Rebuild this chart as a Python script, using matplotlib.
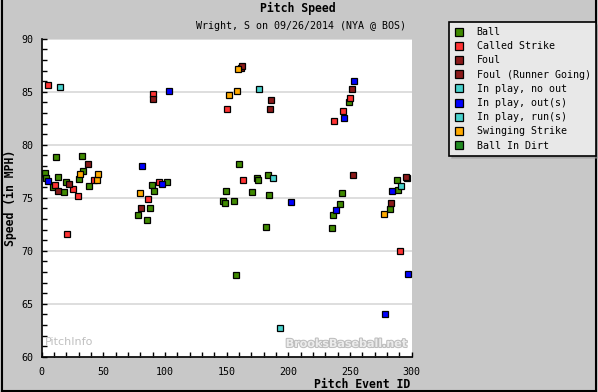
import matplotlib
matplotlib.use("Agg")
import matplotlib.pyplot as plt
import matplotlib.patheffects as pe
from matplotlib.ticker import MultipleLocator

# pitch results (x = pitch event id, y = speed in mph)
ball_x = [12.0, 33.1, 3.1, 3.9, 13.6, 9.3, 18.5, 20.1, 33.9, 30.7, 38.8,
          89.2, 102.1, 91.6, 88.3, 78.6, 85.9,
          146.8, 148.4, 149.2, 155.7, 157.3, 170.3, 184.1, 181.7, 159.8, 174.4, 175.2, 183.3,
          249.1, 243.4, 241.8, 236.1, 235.3, 288.1, 288.9, 282.4]
ball_y = [78.8, 78.9, 77.3, 76.9, 77.0, 76.0, 75.5, 76.45, 77.5, 76.74, 76.08,
          76.17, 76.45, 75.6, 74.0, 73.34, 72.87,
          74.66, 74.47, 75.66, 74.66, 67.68, 75.57, 75.3, 72.2, 78.15, 76.83, 76.64, 77.1,
          84.0, 75.4, 74.38, 73.34, 72.1, 76.64, 75.7, 73.9]

called_x = [5.0, 90.3, 150.6, 11.2, 25.8, 29.9, 42.6, 21.0, 95.4, 86.7, 163.0,
            249.9, 244.2, 236.9, 296.2, 290.5]
called_y = [85.6, 84.75, 83.34, 76.17, 75.8, 75.2, 76.64, 71.55, 76.45, 74.85, 76.64,
            84.38, 83.15, 82.2, 76.9, 69.94]

foul_x = [90.8, 161.7, 162.2, 185.8, 185.0, 38.0, 13.1, 22.6, 81.0, 251.5, 252.3, 295.4, 283.2]
foul_y = [84.3, 87.2, 87.4, 84.2, 83.4, 78.15, 75.6, 76.26, 74.0, 85.23, 77.1, 77.0, 74.47]

noout_x = [15.3, 176.0, 187.4, 193.1, 291.3]
noout_y = [85.4, 85.3, 76.9, 62.68, 76.08]

outs_x = [103.3, 5.5, 81.8, 97.3, 202.0, 253.2, 245.0, 238.5, 284.0, 297.0, 278.3]
outs_y = [85.1, 76.6, 77.96, 76.26, 74.57, 85.98, 82.5, 73.8, 75.6, 67.77, 64.0]

swing_x = [151.7, 158.2, 159.0, 31.5, 45.3, 46.1, 80.2, 277.5]
swing_y = [84.66, 85.1, 87.1, 77.2, 76.64, 77.2, 75.4, 73.43]

labels = ["Ball", "Called Strike", "Foul", "Foul (Runner Going)", "In play, no out",
          "In play, out(s)", "In play, run(s)", "Swinging Strike", "Ball In Dirt"]
colors = ["#408a00", "#ff3333", "#8b1a1a", "#8b1a1a", "#48d1cc",
          "#0000ff", "#48d1cc", "#ffaa00", "#228b22"]
series_x = [ball_x, called_x, foul_x, [], noout_x, outs_x, [], swing_x, []]
series_y = [ball_y, called_y, foul_y, [], noout_y, outs_y, [], swing_y, []]

mono = "DejaVu Sans Mono"
W, H = 598, 392

fig = plt.figure(figsize=(W / 100, H / 100), dpi=100, facecolor="#c8c8c8")
ax = fig.add_axes([41.5 / W, 35.3 / H, 370 / W, 318 / H])
ax.set_facecolor("white")

for xs, ys, c, lab in zip(series_x, series_y, colors, labels):
    ax.plot(xs, ys, linestyle="none", marker="s", markersize=3.9,
            markerfacecolor=c, markeredgecolor="black", markeredgewidth=0.9,
            label=lab, zorder=3)

ax.set_xlim(0, 300)
ax.set_ylim(60, 90)
ax.xaxis.set_major_locator(MultipleLocator(50))
ax.xaxis.set_minor_locator(MultipleLocator(10))
ax.yaxis.set_major_locator(MultipleLocator(5))
ax.yaxis.set_minor_locator(MultipleLocator(1))
ax.tick_params(which="both", direction="in", color="black", width=1, length=3.5)
ax.tick_params(axis="x", which="major", pad=7.5, labelsize=7.2)
ax.tick_params(axis="y", which="major", pad=6, labelsize=7.2)
for t in ax.get_xticklabels() + ax.get_yticklabels():
    t.set_family(mono)

ax.grid(axis="y", which="major", color="#d8d8d8", linewidth=1.2, zorder=0)
ax.set_axisbelow(True)
for s in ["top", "right"]:
    ax.spines[s].set_visible(False)
for s in ["left", "bottom"]:
    ax.spines[s].set_linewidth(1.2)

# watermarks
ax.text(3, 61.4, "PitchInfo", fontsize=8, color="#c0c0c0", family="DejaVu Sans",
        ha="left", va="center", zorder=2)
ax.text(296, 61.2, "BrooksBaseball.net", fontsize=8, color="#ececec", weight="bold",
        family="DejaVu Sans", ha="right", va="center", zorder=2,
        path_effects=[pe.withStroke(linewidth=1.5, foreground="#bdbdbd")])

# titles and axis labels
fig.text(298 / W, 1 - 8 / H, "Pitch Speed", family=mono, weight="bold",
         fontsize=8.3, ha="center", va="center")
fig.text(301 / W, 1 - 26 / H, "Wright, S on 09/26/2014 (NYA @ BOS)", family=mono,
         fontsize=7.2, ha="center", va="center")
fig.text(410 / W, 1 - 384.5 / H, "Pitch Event ID", family=mono, weight="bold",
         fontsize=8.3, ha="right", va="center")
fig.text(10.5 / W, 1 - 198 / H, "Speed (in MPH)", family=mono, weight="bold",
         fontsize=8.3, ha="center", va="center", rotation=90)

leg = fig.legend(loc="upper left", bbox_to_anchor=(449 / W, 1 - 22 / H),
                 prop={"family": mono, "size": 7.2}, frameon=True, fancybox=False,
                 facecolor="#e8e8e8", edgecolor="black", framealpha=1,
                 borderpad=0.5, handlelength=1.0, handletextpad=1.27,
                 labelspacing=0.42, markerscale=1.65, borderaxespad=0,
                 shadow={"color": "#999999"})
leg.get_frame().set_linewidth(1.2)

# outer frame of the image
fig.add_artist(plt.Line2D([1.5 / W, 1.5 / W], [1.5 / H, 1], color="black", linewidth=1.5))
fig.add_artist(plt.Line2D([595.5 / W, 595.5 / W], [1.5 / H, 1], color="black", linewidth=1.5))
fig.add_artist(plt.Line2D([1.5 / W, 595.5 / W], [1.5 / H, 1.5 / H], color="black", linewidth=1.5))

fig.savefig("out.png", dpi=100, facecolor=fig.get_facecolor())
